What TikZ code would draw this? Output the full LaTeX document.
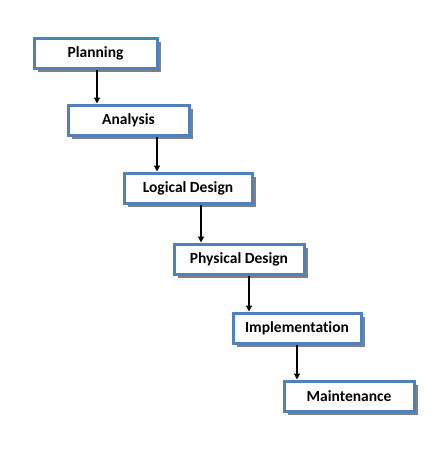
\documentclass[tikz,border=0pt]{standalone}
\usepackage{fontspec}
\setmainfont[Ligatures={NoCommon}]{Carlito}
\usetikzlibrary{arrows.meta,shadows}
\definecolor{boxblue}{HTML}{4F81BD}
\tikzset{
  stage/.style={draw=boxblue, line width=3pt, fill=white, minimum height=30pt, inner sep=0pt,
    font=\bfseries\fontsize{15.5}{18}\selectfont,
    drop shadow={shadow xshift=4pt, shadow yshift=-4pt, fill=black!50, opacity=1}},
  conn/.style={-{Triangle[length=6pt,width=6pt]}, line width=1.2pt, black}
}
\begin{document}
\begin{tikzpicture}[x=1pt,y=-1pt]
\useasboundingbox (0,0) rectangle (444,450);
\node[stage, minimum width=123pt] (p) at (95.5,53) {Planning};
\node[stage, minimum width=121pt] (a) at (128.5,120) {Analysis};
\node[stage, minimum width=128pt] (l) at (188,188) {Logical Design};
\node[stage, minimum width=130pt] (ph) at (239,259) {Physical Design};
\node[stage, minimum width=128pt] (i) at (297,328) {Implementation};
\node[stage, minimum width=130pt] (m) at (349,396) {Maintenance};
\coordinate (x1) at (97,0);
\coordinate (x2) at (157,0);
\coordinate (x3) at (201,0);
\coordinate (x4) at (249,0);
\coordinate (x5) at (297,0);
\draw[conn] (p.south -| x1) -- (a.north -| x1);
\draw[conn] (a.south -| x2) -- (l.north -| x2);
\draw[conn] (l.south -| x3) -- (ph.north -| x3);
\draw[conn] (ph.south -| x4) -- (i.north -| x4);
\draw[conn] (i.south -| x5) -- (m.north -| x5);
\end{tikzpicture}
\end{document}
